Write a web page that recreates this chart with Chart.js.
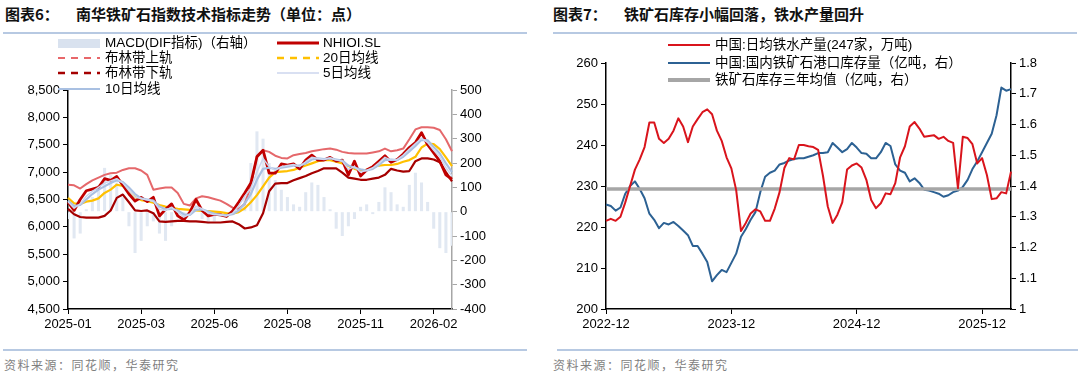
<!DOCTYPE html>
<html><head><meta charset="utf-8">
<script src="https://cdn.jsdelivr.net/npm/chart.js@4.4.1/dist/chart.umd.min.js"></script>
<style>
html,body{margin:0;padding:0;background:#fff;width:1080px;height:380px;overflow:hidden;font-family:"Liberation Sans","Noto Sans CJK SC",sans-serif;}
.abs{position:absolute;}
.title{font-family:"Noto Sans CJK SC",sans-serif;font-weight:700;font-size:15px;color:#111;top:4px;white-space:nowrap;line-height:20px;}
.hr{height:2px;background:#b7c9e2;}
.foot{font-family:"Noto Sans CJK SC",sans-serif;font-size:12px;color:#7f7f7f;top:356px;letter-spacing:1.5px;white-space:nowrap;}
.lg{font-size:13.5px;color:#000;white-space:nowrap;line-height:16px;font-family:"Liberation Sans","Noto Sans CJK SC",sans-serif;}
canvas{position:absolute;}
</style></head><body>
<div class="abs title" style="left:5px">图表6：</div>
<div class="abs title" style="left:76px">南华铁矿石指数技术指标走势（单位：点）</div>
<div class="abs hr" style="left:3px;top:32px;width:524px"></div>
<div class="abs title" style="left:553px">图表7：</div>
<div class="abs title" style="left:624px">铁矿石库存小幅回落，铁水产量回升</div>
<div class="abs hr" style="left:553px;top:32px;width:524px"></div>

<canvas id="c1" width="540" height="340" style="left:0;top:0"></canvas>
<canvas id="c2" width="540" height="340" style="left:540px;top:0"></canvas>

<!-- left legend -->
<svg class="abs" style="left:58px;top:39px" width="42" height="9"><rect x="0" y="0" width="42" height="9" fill="#d9e2ef"/></svg>
<div class="abs lg" style="left:105px;top:35px">MACD(DIF指标)（右轴）</div>
<svg class="abs" style="left:277px;top:39px" width="42" height="8"><line x1="0" y1="4" x2="42" y2="4" stroke="#c00000" stroke-width="3"/></svg>
<div class="abs lg" style="left:323px;top:35px">NHIOI.SL</div>
<svg class="abs" style="left:58px;top:54px" width="42" height="8"><line x1="0" y1="4" x2="42" y2="4" stroke="#e8676a" stroke-width="2" stroke-dasharray="7,6"/></svg>
<div class="abs lg" style="left:105px;top:50px">布林带上轨</div>
<svg class="abs" style="left:277px;top:54px" width="42" height="8"><line x1="0" y1="4" x2="42" y2="4" stroke="#ffc000" stroke-width="2.5" stroke-dasharray="7,6"/></svg>
<div class="abs lg" style="left:323px;top:50px">20日均线</div>
<svg class="abs" style="left:58px;top:69px" width="42" height="8"><line x1="0" y1="4" x2="42" y2="4" stroke="#a50000" stroke-width="2.5" stroke-dasharray="7,6"/></svg>
<div class="abs lg" style="left:105px;top:65px">布林带下轨</div>
<svg class="abs" style="left:277px;top:69px" width="42" height="8"><line x1="0" y1="4" x2="42" y2="4" stroke="#ccd6ee" stroke-width="1.5"/></svg>
<div class="abs lg" style="left:323px;top:65px">5日均线</div>
<svg class="abs" style="left:58px;top:85px" width="42" height="8"><line x1="0" y1="4" x2="42" y2="4" stroke="#a9c0e2" stroke-width="2"/></svg>
<div class="abs lg" style="left:105px;top:81px">10日均线</div>

<!-- right legend -->
<svg class="abs" style="left:668px;top:41px" width="42" height="8"><line x1="0" y1="4" x2="42" y2="4" stroke="#d9141c" stroke-width="2"/></svg>
<div class="abs lg" style="left:715px;top:37px">中国:日均铁水产量(247家，万吨)</div>
<svg class="abs" style="left:668px;top:59px" width="42" height="8"><line x1="0" y1="4" x2="42" y2="4" stroke="#2c6193" stroke-width="2"/></svg>
<div class="abs lg" style="left:715px;top:55px">中国:国内铁矿石港口库存量（亿吨，右）</div>
<svg class="abs" style="left:668px;top:76px" width="42" height="8"><line x1="0" y1="4" x2="42" y2="4" stroke="#a6a6a6" stroke-width="4"/></svg>
<div class="abs lg" style="left:715px;top:72px">铁矿石库存三年均值（亿吨，右）</div>

<div class="abs hr" style="left:3px;top:349px;width:524px"></div>
<div class="abs hr" style="left:557px;top:349px;width:521px"></div>
<div class="abs foot" style="left:4px">资料来源：同花顺，华泰研究</div>
<div class="abs foot" style="left:553px">资料来源：同花顺，华泰研究</div>

<script>
// ---------- Left chart data (南华铁矿石指数) ----------
const xTickText1 = ['2025-01','2025-03','2025-06','2025-08','2025-11','2026-02'];
const xTickIdx1 = [0,12,24,36,48,60];
const nhClose = [6450,6300,6500,6660,6690,6720,6880,6850,6920,6760,
  6600,6470,6540,6460,6540,6200,6320,6420,6200,6130,
  6270,6500,6300,6200,6230,6220,6190,6290,6450,6620,
  6800,7280,7400,6980,6980,7150,7130,7150,7060,7220,
  7310,7220,7220,7270,7200,7220,6950,7200,6930,7040,
  7100,7200,7300,7180,7230,7330,7450,7540,7720,7500,
  7350,7200,6950,6870];
const bollUpper = [6770,6760,6700,6780,6850,6900,6950,6980,6990,7040,
  7070,7070,7030,6950,6680,6700,6720,6720,6620,6420,
  6390,6520,6560,6540,6510,6480,6420,6350,6330,6420,
  6750,7300,7400,7370,7300,7260,7250,7310,7330,7350,
  7380,7400,7420,7430,7410,7370,7350,7340,7340,7340,
  7360,7380,7430,7380,7400,7430,7600,7780,7820,7820,
  7810,7770,7600,7380];
const bollLower = [6330,6230,6180,6170,6170,6170,6200,6300,6530,6590,
  6450,6300,6290,6300,6250,6100,6090,6100,6110,6110,
  6100,6100,6090,6080,6080,6080,6090,6100,6050,5970,
  5990,6030,6250,6650,6790,6800,6800,6850,6890,6930,
  6980,7020,7070,7070,7070,6990,6900,6880,6860,6860,
  6880,6900,6950,7060,7030,7010,7020,7200,7250,7250,
  7230,7180,7000,6830];
const ma20 = [6530,6430,6420,6460,6480,6520,6620,6680,6770,6750,
  6640,6540,6490,6470,6440,6400,6370,6350,6330,6320,
  6310,6300,6290,6290,6280,6270,6250,6240,6270,6340,
  6450,6580,6740,6900,7000,7010,7020,7040,7080,7120,
  7160,7200,7220,7220,7190,7160,7110,7060,7030,7040,
  7090,7120,7130,7130,7150,7190,7220,7280,7450,7520,
  7510,7420,7270,7110];
const ma10 = [6480,6380,6400,6500,6600,6680,6740,6800,6850,6820,
  6720,6600,6520,6500,6480,6370,6320,6330,6300,6230,
  6220,6310,6320,6280,6240,6220,6210,6230,6300,6430,
  6600,6860,7060,7080,7060,7080,7100,7120,7120,7160,
  7230,7250,7240,7250,7230,7210,7120,7080,7050,7030,
  7060,7130,7220,7230,7220,7280,7380,7480,7590,7580,
  7460,7340,7160,7000];
const ma5 = [6460,6340,6420,6560,6650,6720,6800,6840,6880,6800,
  6660,6540,6520,6490,6470,6320,6300,6360,6270,6180,
  6230,6380,6330,6250,6220,6220,6200,6250,6380,6560,
  6700,7000,7250,7100,7030,7100,7120,7140,7100,7190,
  7270,7250,7230,7260,7220,7200,7050,7100,7000,7030,
  7080,7170,7270,7220,7230,7310,7420,7520,7620,7540,
  7400,7280,7080,6930];
const macdDif = [-30,-110,-90,10,60,110,180,150,120,60,
  -60,-170,-120,-60,-40,-90,-120,-60,-20,-30,
  -10,20,-30,-50,-40,-20,-10,5,20,60,
  200,330,300,200,130,90,60,30,20,80,
  120,110,60,10,-70,-100,-60,-30,20,30,
  -10,40,100,80,30,20,110,160,120,40,
  -70,-150,-170,-140];

// ---------- Right chart data (铁水 / 港口库存) ----------
const xTickText2 = ['2022-12','2023-12','2024-12','2025-12'];
const xTickIdx2 = [0,26,52,78];
const hotMetal = [221.5,222,221.5,222.5,226,230,234,236.5,239.5,245.5,
  245.5,241.5,240.5,241.5,243.5,246.5,244.5,240.7,244.5,246.3,
  248,248.7,247.5,243.5,241,237,234.3,229,219,221,
  223.3,224.3,223.8,221.5,221.5,224.5,228.5,234.4,236.8,236.5,
  240,240,239.7,239.5,238.8,232.5,225,221,223,226,
  234,235,235.5,234.5,231.5,226.6,224.6,225.8,228.2,228,
  230.7,237,239.7,244.5,245.6,244,242,242.2,242.4,241.5,
  242,241,240.5,229.5,242,241.7,240.2,235.5,236.8,232.7,
  226.8,227,228.5,228.2,233.5];
const portStock = [1.34,1.335,1.32,1.33,1.375,1.40,1.415,1.39,1.36,1.31,
  1.29,1.263,1.28,1.275,1.283,1.27,1.255,1.24,1.205,1.205,
  1.18,1.153,1.09,1.11,1.127,1.12,1.15,1.18,1.235,1.26,
  1.29,1.315,1.38,1.43,1.443,1.45,1.47,1.475,1.483,1.488,
  1.49,1.49,1.495,1.50,1.507,1.507,1.51,1.54,1.525,1.51,
  1.52,1.54,1.525,1.507,1.505,1.49,1.49,1.51,1.54,1.53,
  1.47,1.45,1.443,1.415,1.425,1.41,1.388,1.385,1.38,1.375,
  1.365,1.37,1.38,1.385,1.397,1.42,1.455,1.48,1.51,1.54,
  1.57,1.63,1.72,1.71,1.715];
const stock3yAvg = 1.39;

// ---------- helpers ----------
const labels1 = nhClose.map((_, i) => { const k = xTickIdx1.indexOf(i); return k >= 0 ? xTickText1[k] : 'p' + i; });
const start2 = Date.UTC(2022, 11, 9);
const labels2 = hotMetal.map((_, i) => new Date(start2 + i * 14 * 864e5).toISOString().slice(0, 10));

const FONT = {family: '"Liberation Sans", Arial, sans-serif', size: 13};
Chart.defaults.font = FONT;
Chart.defaults.color = '#000';

function lineDS(label, data, color, width, axis, order, dash) {
  return {type: 'line', label, data, borderColor: color, backgroundColor: color, borderWidth: width,
    yAxisID: axis, pointRadius: 0, tension: 0, order, borderDash: dash || [], borderJoinStyle: 'round'};
}

new Chart(document.getElementById('c1'), {
  data: {
    labels: labels1,
    datasets: [
      {type: 'bar', label: 'MACD(DIF指标)（右轴）', data: macdDif, backgroundColor: '#e1e8f2', yAxisID: 'y2',
        barPercentage: 0.5, categoryPercentage: 1, order: 10},
      lineDS('布林带下轨', bollLower, '#a50000', 2.2, 'y', 7),
      lineDS('布林带上轨', bollUpper, '#e5686b', 2, 'y', 6),
      lineDS('20日均线', ma20, '#ffc000', 2.2, 'y', 5),
      lineDS('NHIOI.SL', nhClose, '#c00000', 2.8, 'y', 4),
      lineDS('10日均线', ma10, '#a9c0e2', 2.2, 'y', 3),
      lineDS('5日均线', ma5, '#ccd6ee', 1.5, 'y', 2)
    ]
  },
  options: {
    responsive: false, animation: false,
    layout: {padding: {top: 90, left: 0, right: 0, bottom: 0}},
    plugins: {legend: {display: false}, tooltip: {enabled: false}},
    scales: {
      x: {type: 'category', offset: false,
        grid: {display: true, offset: false, drawOnChartArea: false, drawTicks: true, tickLength: 5, color: '#000', lineWidth: 1},
        border: {display: true, color: '#000', width: 1.5},
        ticks: {autoSkip: false, maxRotation: 0, minRotation: 0, padding: 3, font: FONT,
          callback: (v, i) => { const k = xTickIdx1.indexOf(i); return k >= 0 ? xTickText1[k] : null; }},
        afterFit: s => { s.height = 31; }},
      y: {position: 'left', min: 4500, max: 8500,
        grid: {drawOnChartArea: false, drawTicks: true, tickLength: 5, color: '#000'},
        border: {display: true, color: '#000', width: 1.5},
        ticks: {stepSize: 500, padding: 3, font: FONT, callback: v => v.toLocaleString('en-US')},
        afterFit: s => { s.width = 68; }},
      y2: {position: 'right', min: -400, max: 500,
        grid: {drawOnChartArea: false, drawTicks: true, tickLength: 5, color: '#a6a6a6'},
        border: {display: true, color: '#a6a6a6', width: 1.5},
        ticks: {stepSize: 100, padding: 3, font: FONT},
        afterFit: s => { s.width = 88; }}
    }
  }
});

new Chart(document.getElementById('c2'), {
  data: {
    labels: labels2,
    datasets: [
      lineDS('中国:日均铁水产量(247家，万吨)', hotMetal, '#d9141c', 2, 'y', 1),
      {type: 'line', label: '铁矿石库存三年均值（亿吨，右）',
        data: [{x: labels2[0], y: stock3yAvg}, {x: labels2[labels2.length - 1], y: stock3yAvg}],
        borderColor: '#a6a6a6', borderWidth: 3.5, yAxisID: 'y2', pointRadius: 0, order: 2},
      lineDS('中国:国内铁矿石港口库存量（亿吨，右）', portStock, '#2c6193', 2, 'y2', 3)
    ]
  },
  options: {
    responsive: false, animation: false,
    layout: {padding: {top: 63, left: 0, right: 0, bottom: 0}},
    plugins: {legend: {display: false}, tooltip: {enabled: false}},
    scales: {
      x: {type: 'category', offset: false,
        grid: {display: true, offset: false, drawOnChartArea: false, drawTicks: true, tickLength: 5, color: '#000', lineWidth: 1},
        border: {display: true, color: '#000', width: 1.5},
        ticks: {autoSkip: false, maxRotation: 0, minRotation: 0, padding: 3, font: FONT,
          callback: (v, i) => { const k = xTickIdx2.indexOf(i); return k >= 0 ? xTickText2[k] : null; }},
        afterFit: s => { s.height = 31; }},
      y: {position: 'left', min: 200, max: 260,
        grid: {drawOnChartArea: false, drawTicks: true, tickLength: 5, color: '#000'},
        border: {display: true, color: '#000', width: 1.5},
        ticks: {stepSize: 10, padding: 3, font: FONT},
        afterFit: s => { s.width = 66; }},
      y2: {position: 'right', min: 1, max: 1.8,
        grid: {drawOnChartArea: false, drawTicks: true, tickLength: 5, color: '#000'},
        border: {display: true, color: '#000', width: 1.5},
        ticks: {stepSize: 0.1, padding: 3, font: FONT, callback: v => String(Math.round(v * 10) / 10)},
        afterFit: s => { s.width = 69; }}
    }
  }
});
</script>
</body></html>
